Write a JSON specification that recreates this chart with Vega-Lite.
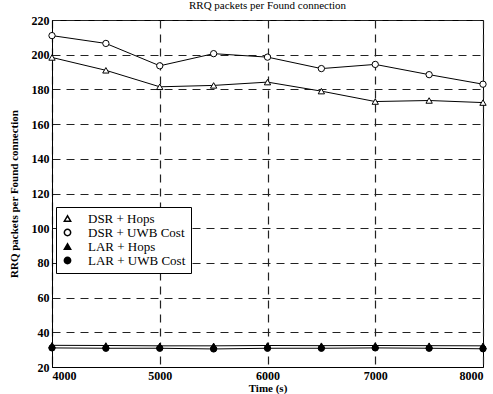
{
  "$schema": "https://vega.github.io/schema/vega-lite/v6.json",
  "width": 431,
  "height": 347,
  "autosize": "none",
  "padding": {"left": 52, "top": 20, "right": 10, "bottom": 27},
  "background": "white",
  "title": {"text": "RRQ packets per Found connection", "font": "Liberation Serif", "fontSize": 11, "fontWeight": "normal", "color": "black", "offset": 3},
  "config": {
    "view": {"stroke": "black", "strokeWidth": 1},
    "axis": {
      "labelFont": "Liberation Serif", "labelFontSize": 12, "labelFontWeight": "bold", "labelColor": "black",
      "titleFont": "Liberation Serif", "titleFontSize": 11, "titleFontWeight": "bold", "titleColor": "black",
      "grid": true, "gridColor": "#222", "gridDash": [8, 6], "gridWidth": 1.2, "gridOpacity": 1,
      "domainColor": "black", "ticks": false, "labelPadding": 3
    }
  },
  "data": {"values": [
    {"t": 4000, "s": "DSR + Hops", "v": 198.4},
    {"t": 4500, "s": "DSR + Hops", "v": 191},
    {"t": 5000, "s": "DSR + Hops", "v": 181.5},
    {"t": 5500, "s": "DSR + Hops", "v": 182.3},
    {"t": 6000, "s": "DSR + Hops", "v": 184.2},
    {"t": 6500, "s": "DSR + Hops", "v": 179},
    {"t": 7000, "s": "DSR + Hops", "v": 173},
    {"t": 7500, "s": "DSR + Hops", "v": 173.6},
    {"t": 8000, "s": "DSR + Hops", "v": 172.4},
    {"t": 4000, "s": "DSR + UWB Cost", "v": 211},
    {"t": 4500, "s": "DSR + UWB Cost", "v": 206.5},
    {"t": 5000, "s": "DSR + UWB Cost", "v": 193.6},
    {"t": 5500, "s": "DSR + UWB Cost", "v": 200.6},
    {"t": 6000, "s": "DSR + UWB Cost", "v": 198.6},
    {"t": 6500, "s": "DSR + UWB Cost", "v": 192},
    {"t": 7000, "s": "DSR + UWB Cost", "v": 194.4},
    {"t": 7500, "s": "DSR + UWB Cost", "v": 188.5},
    {"t": 8000, "s": "DSR + UWB Cost", "v": 183},
    {"t": 4000, "s": "LAR + Hops", "v": 32.5},
    {"t": 4500, "s": "LAR + Hops", "v": 32.4},
    {"t": 5000, "s": "LAR + Hops", "v": 32.2},
    {"t": 5500, "s": "LAR + Hops", "v": 32.2},
    {"t": 6000, "s": "LAR + Hops", "v": 32.4},
    {"t": 6500, "s": "LAR + Hops", "v": 32.3},
    {"t": 7000, "s": "LAR + Hops", "v": 32.4},
    {"t": 7500, "s": "LAR + Hops", "v": 32.3},
    {"t": 8000, "s": "LAR + Hops", "v": 32.2},
    {"t": 4000, "s": "LAR + UWB Cost", "v": 31},
    {"t": 4500, "s": "LAR + UWB Cost", "v": 30.8},
    {"t": 5000, "s": "LAR + UWB Cost", "v": 30.8},
    {"t": 5500, "s": "LAR + UWB Cost", "v": 30.4},
    {"t": 6000, "s": "LAR + UWB Cost", "v": 30.8},
    {"t": 6500, "s": "LAR + UWB Cost", "v": 30.8},
    {"t": 7000, "s": "LAR + UWB Cost", "v": 31},
    {"t": 7500, "s": "LAR + UWB Cost", "v": 30.8},
    {"t": 8000, "s": "LAR + UWB Cost", "v": 30.5}
  ]},
  "encoding": {
    "x": {"field": "t", "type": "quantitative", "title": "Time (s)", "scale": {"domain": [4000, 8000], "nice": false}, "axis": {"values": [4000, 5000, 6000, 7000, 8000], "format": "d", "titlePadding": 1}},
    "y": {"field": "v", "type": "quantitative", "title": "RRQ packets per Found connection", "scale": {"domain": [20, 220], "nice": false}, "axis": {"values": [20, 40, 60, 80, 100, 120, 140, 160, 180, 200, 220], "titlePadding": 12}}
  },
  "layer": [
    {
      "mark": {"type": "line", "color": "black", "strokeWidth": 1},
      "encoding": {"detail": {"field": "s"}}
    },
    {
      "mark": {"type": "point", "size": 40, "strokeWidth": 1, "opacity": 1},
      "encoding": {
        "shape": {"field": "s", "type": "nominal", "scale": {"domain": ["DSR + Hops", "DSR + UWB Cost", "LAR + Hops", "LAR + UWB Cost"], "range": ["triangle-up", "circle", "triangle-up", "circle"]},
          "legend": {"title": null, "orient": "none", "legendX": 4, "legendY": 187, "fillColor": "white", "strokeColor": "black", "padding": 5, "labelFont": "Liberation Serif", "labelFontSize": 13, "labelColor": "black", "labelOffset": 14, "rowPadding": 0, "symbolSize": 40,
            "encode": {"symbols": {"update": {"stroke": {"value": "black"}, "strokeWidth": {"value": 1}}}}}},
        "fill": {"field": "s", "type": "nominal", "scale": {"domain": ["DSR + Hops", "DSR + UWB Cost", "LAR + Hops", "LAR + UWB Cost"], "range": ["white", "white", "black", "black"]}, "legend": null},
        "stroke": {"value": "black"}
      }
    }
  ]
}
